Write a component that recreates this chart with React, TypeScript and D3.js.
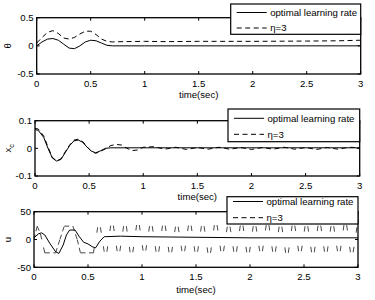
import * as d3 from 'd3';

// ---- data ----
const xTicks = [0, 0.5, 1, 1.5, 2, 2.5, 3];

// theta
const thetaOptT = [0, 0.05, 0.1, 0.15, 0.2, 0.25, 0.3, 0.35, 0.4, 0.45, 0.5, 0.55, 0.6, 0.65, 0.7, 0.8, 1, 3];
const thetaOptV = [0, 0.07, 0.12, 0.13, 0.1, 0.03, -0.04, -0.05, 0.0, 0.07, 0.1, 0.09, 0.05, 0.01, 0, 0, 0, 0];
const thetaEtaT = [0, 0.05, 0.1, 0.15, 0.2, 0.25, 0.3, 0.35, 0.4, 0.45, 0.5, 0.55, 0.6, 0.65, 0.7, 0.8, 1, 1.2, 1.5, 2, 2.5, 2.8, 3];
const thetaEtaV = [0.05, 0.15, 0.24, 0.27, 0.22, 0.14, 0.12, 0.15, 0.21, 0.26, 0.26, 0.2, 0.12, 0.08, 0.07, 0.075, 0.08, 0.075, 0.08, 0.08, 0.085, 0.09, 0.1];

// x_c
const xcOptT = [0, 0.03, 0.08, 0.12, 0.16, 0.2, 0.24, 0.28, 0.32, 0.36, 0.4, 0.44, 0.48, 0.52, 0.56, 0.6, 0.65, 0.7, 3];
const xcOptV = [0.068, 0.065, 0.04, 0.0, -0.035, -0.046, -0.04, -0.015, 0.01, 0.027, 0.03, 0.022, 0.005, -0.01, -0.016, -0.01, 0, 0.002, 0.002];
const xcEtaT = [0, 0.03, 0.08, 0.12, 0.16, 0.2, 0.24, 0.28, 0.32, 0.36, 0.4, 0.44, 0.48, 0.52, 0.56, 0.6, 0.65, 0.7, 0.75, 0.8, 0.85, 0.9, 0.95, 1.0, 1.1, 1.2, 1.3, 1.4, 1.5, 1.6, 1.7, 1.8, 1.9, 2.0, 2.1, 2.2, 2.3, 2.4, 2.5, 2.6, 2.7, 2.8, 2.9, 3];
const xcEtaV = [0.072, 0.07, 0.045, 0.005, -0.033, -0.045, -0.038, -0.012, 0.012, 0.03, 0.033, 0.025, 0.006, -0.01, -0.018, -0.012, -0.002, 0.01, 0.014, 0.012, 0.0, -0.008, -0.006, 0.004, 0.006, -0.003, 0.004, -0.004, 0.003, -0.003, 0.004, -0.003, 0.003, -0.004, 0.003, -0.003, 0.004, -0.003, 0.003, -0.004, 0.003, -0.003, 0.004, 0.002];

// u
const uOptT = [0, 0.04, 0.07, 0.1, 0.15, 0.2, 0.23, 0.27, 0.3, 0.33, 0.38, 0.42, 0.46, 0.5, 0.54, 0.57, 0.61, 0.65, 0.8, 1, 1.5, 2, 2.5, 3];
const uOptV = [3, 10, 12, 8, -8, -22, -25, -10, 8, 17, 17, 5, -5, -8, -13, -15, -3, 5, 6, 5, 4, 3, 3, 3];
// eta=3 control switches (bang-bang, then chattering with short plateaus)
const uEtaT = [0, 0.03, 0.06, 0.1, 0.2, 0.24, 0.28, 0.36, 0.4, 0.43, 0.55,
  0.59, 0.615, 0.65, 0.675, 0.71, 0.735, 0.77, 0.795, 0.83, 0.855, 0.89, 0.915, 0.95, 0.975,
  1.01, 1.035, 1.07, 1.095, 1.13, 1.155, 1.19, 1.215, 1.25, 1.275, 1.31, 1.335, 1.37, 1.395,
  1.43, 1.455, 1.49, 1.515, 1.55, 1.575, 1.61, 1.635, 1.67, 1.695, 1.73, 1.755, 1.79, 1.815,
  1.85, 1.875, 1.91, 1.935, 1.97, 1.995, 2.03, 2.055, 2.09, 2.115, 2.15, 2.175, 2.21, 2.235,
  2.27, 2.295, 2.33, 2.355, 2.39, 2.415, 2.45, 2.475, 2.51, 2.535, 2.57, 2.595, 2.63, 2.655,
  2.69, 2.715, 2.75, 2.775, 2.81, 2.835, 2.87, 2.895, 2.93, 2.955, 2.99, 3.0];
const uEtaV = [0, 24, 10, -24, -24, 0, 24, 24, 0, -24, -24,
  22, 22, -22, -22, 25, 25, -21, -21, 24, 24, -23, -23, 26, 26,
  -20, -20, 24, 24, -22, -22, 25, 25, -23, -23, 23, 23, -21, -21,
  25, 25, -22, -22, 24, 24, -24, -24, 26, 26, -21, -21, 23, 23,
  -22, -22, 25, 25, -23, -23, 24, 24, -21, -21, 26, 26, -22, -22,
  23, 23, -24, -24, 25, 25, -21, -21, 24, 24, -23, -23, 25, 25,
  -22, -22, 24, 24, -21, -21, 26, 26, -23, -23, 22, 22];

const legendLabels = ['optimal learning rate', 'η=3'];

const FONT = '"Liberation Sans", Arial, sans-serif';
const FS = 9.6;
const DASH = '5,3.5';

interface Panel {
  yLabel: 'theta' | 'xc' | 'u';
  yDomain: [number, number];
  yTicks: number[];
  yTickLabels: string[];
  optT: number[];
  optV: number[];
  etaT: number[];
  etaV: number[];
  segmented?: boolean;
  box: { left: number; right: number; top: number; bottom: number };
  legend: { x: number; y: number; w: number; h: number; r1: number; r2: number };
  xLabelY: number;
}

const panels: Panel[] = [
  {
    yLabel: 'theta', yDomain: [-0.5, 0.5], yTicks: [-0.5, 0, 0.5], yTickLabels: ['-0.5', '0', '0.5'],
    optT: thetaOptT, optV: thetaOptV, etaT: thetaEtaT, etaV: thetaEtaV,
    box: { left: 36.7, right: 360.7, top: 17.7, bottom: 74 },
    legend: { x: 230.7, y: 4, w: 130, h: 30.3, r1: 12.5, r2: 28 },
    xLabelY: 98,
  },
  {
    yLabel: 'xc', yDomain: [-0.1, 0.1], yTicks: [-0.1, 0, 0.1], yTickLabels: ['-0.1', '0', '0.1'],
    optT: xcOptT, optV: xcOptV, etaT: xcEtaT, etaV: xcEtaV,
    box: { left: 35, right: 359.7, top: 120.7, bottom: 176 },
    legend: { x: 228, y: 109, w: 131.7, h: 32.7, r1: 118.3, r2: 134.3 },
    xLabelY: 200,
  },
  {
    yLabel: 'u', yDomain: [-50, 50], yTicks: [-50, 0, 50], yTickLabels: ['-50', '0', '50'],
    optT: uOptT, optV: uOptV, etaT: uEtaT, etaV: uEtaV, segmented: true,
    box: { left: 34, right: 358, top: 211.7, bottom: 267.3 },
    legend: { x: 227, y: 196.7, w: 131, h: 27.3, r1: 201.5, r2: 217.7 },
    xLabelY: 293,
  },
];

function YLabel({ kind, x, y }: { kind: Panel['yLabel']; x: number; y: number }) {
  const tr = `translate(${x},${y}) rotate(-90)`;
  if (kind === 'xc') {
    return (
      <text transform={tr} textAnchor="middle" fontFamily={FONT} fontSize={FS}>
        <tspan>x</tspan>
        <tspan fontSize={7.5} dy={3}>c</tspan>
      </text>
    );
  }
  return (
    <text transform={tr} textAnchor="middle" fontFamily={FONT} fontSize={FS}>
      {kind === 'theta' ? 'θ' : 'u'}
    </text>
  );
}

function PanelView({ p }: { p: Panel }) {
  const { box, legend } = p;
  const x = d3.scaleLinear().domain([0, 3]).range([box.left, box.right]);
  const y = d3.scaleLinear().domain(p.yDomain).range([box.bottom, box.top]);
  const line = d3.line<[number, number]>().x((d) => x(d[0])).y((d) => y(d[1]));
  const optPts = p.optT.map((t, i) => [t, p.optV[i]] as [number, number]);
  const etaPts = p.etaT.map((t, i) => [t, p.etaV[i]] as [number, number]);
  const opt = line(optPts) ?? '';
  const clipId = `clip-${p.yLabel}`;
  const tk = 3;

  // steep switching edges: a dash at each end of the edge, short plateaus fall in the gaps
  let etaMarks;
  if (p.segmented) {
    etaMarks = d3.pairs(etaPts).map(([a, b], i) => {
      const L = Math.hypot(x(b[0]) - x(a[0]), y(b[1]) - y(a[1]));
      if (L < 4) return null;
      const dash = L > 16 ? `5.5,${L - 11},5.5` : DASH;
      return (
        <path key={i} d={line([a, b]) ?? ''} fill="none" stroke="#333" strokeWidth={0.9} strokeDasharray={dash} />
      );
    });
  } else {
    etaMarks = <path d={line(etaPts) ?? ''} fill="none" stroke="#000" strokeWidth={1} strokeDasharray={DASH} />;
  }

  return (
    <g>
      <defs>
        <clipPath id={clipId}>
          <rect x={box.left} y={box.top} width={box.right - box.left} height={box.bottom - box.top} />
        </clipPath>
      </defs>
      <g clipPath={`url(#${clipId})`}>
        {etaMarks}
        <path d={opt} fill="none" stroke="#000" strokeWidth={1} />
      </g>
      {xTicks.map((t) => (
        <g key={`xt${t}`}>
          <line x1={x(t)} x2={x(t)} y1={box.bottom} y2={box.bottom - tk} stroke="#000" />
          <line x1={x(t)} x2={x(t)} y1={box.top} y2={box.top + tk} stroke="#000" />
          <text x={x(t)} y={box.bottom + 12.5} textAnchor="middle" fontFamily={FONT} fontSize={FS}>
            {String(t)}
          </text>
        </g>
      ))}
      {p.yTicks.map((v, i) => (
        <g key={`yt${v}`}>
          <line x1={box.left} x2={box.left + tk} y1={y(v)} y2={y(v)} stroke="#000" />
          <line x1={box.right} x2={box.right - tk} y1={y(v)} y2={y(v)} stroke="#000" />
          <text x={box.left - 3} y={y(v) + 3.4} textAnchor="end" fontFamily={FONT} fontSize={FS}>
            {p.yTickLabels[i]}
          </text>
        </g>
      ))}
      <rect
        x={box.left}
        y={box.top}
        width={box.right - box.left}
        height={box.bottom - box.top}
        fill="none"
        stroke="#000"
        strokeWidth={1.3}
      />
      <text x={(box.left + box.right) / 2} y={p.xLabelY} textAnchor="middle" fontFamily={FONT} fontSize={FS}>
        time(sec)
      </text>
      <YLabel kind={p.yLabel} x={11} y={(box.top + box.bottom) / 2} />
      <rect x={legend.x} y={legend.y} width={legend.w} height={legend.h} fill="#fff" stroke="#000" strokeWidth={1.2} />
      <line x1={legend.x + 6} x2={legend.x + 36} y1={legend.r1} y2={legend.r1} stroke="#000" />
      <line x1={legend.x + 6} x2={legend.x + 36} y1={legend.r2} y2={legend.r2} stroke="#000" strokeDasharray={DASH} />
      <text x={legend.x + 39.5} y={legend.r1 + 3.4} fontFamily={FONT} fontSize={FS}>
        {legendLabels[0]}
      </text>
      <text x={legend.x + 39.5} y={legend.r2 + 3.4} fontFamily={FONT} fontSize={FS}>
        {legendLabels[1]}
      </text>
    </g>
  );
}

export default function App() {
  return (
    <svg
      width={375}
      height={300}
      viewBox="0 0 375 300"
      style={{ position: 'absolute', left: 0, top: 0, background: '#fff' }}
    >
      <rect width={375} height={300} fill="#fff" />
      {panels.map((p) => (
        <PanelView key={p.yLabel} p={p} />
      ))}
    </svg>
  );
}
